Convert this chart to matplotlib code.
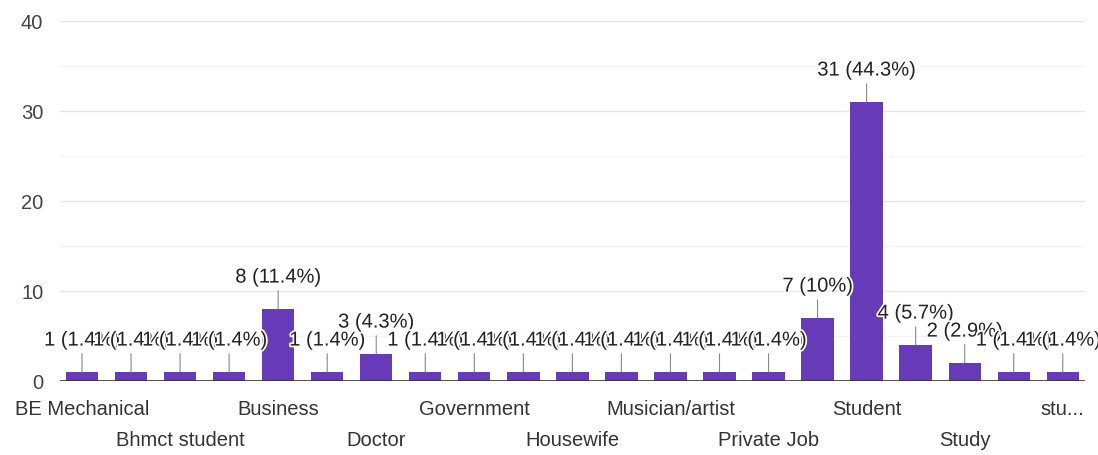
import matplotlib.pyplot as plt
import matplotlib.patheffects as pe

# --- data (hidden category names are not shown in the source, left blank) ---
categories = ['BE Mechanical', '', 'Bhmct student', '', 'Business', '', 'Doctor', '',
              'Government', '', 'Housewife', '', 'Musician/artist', '', 'Private Job', '',
              'Student', '', 'Study', '', 'stu...']
counts = [1, 1, 1, 1, 8, 1, 3, 1, 1, 1, 1, 1, 1, 1, 1, 7, 31, 4, 2, 1, 1]
yticks = [0, 10, 20, 30, 40]

purple = '#673ab7'
total = sum(counts)
fs = 14.5

plt.rcParams['font.family'] = ['Liberation Sans', 'DejaVu Sans']

fig = plt.figure(figsize=(10.98, 4.55), dpi=100)
ax = fig.add_axes([0.0546, 0.1626, 0.9334, 0.7912])

x = list(range(len(counts)))

# сетка
for v in range(5, 40, 10):
    ax.axhline(v, color='#f4f4f4', lw=1, zorder=0)
for v in yticks[1:]:
    ax.axhline(v, color='#e6e6e6', lw=1, zorder=0)

ax.bar(x, counts, width=0.66, color=purple, zorder=2)
ax.axhline(0, color='#333333', lw=1.2, zorder=3)

# value labels with leader lines
for i, v in enumerate(counts):
    pct = round(100 * v / total, 1)
    pct_s = ('%g' % pct)
    ax.annotate(f'{v} ({pct_s}%)', xy=(i, v), xytext=(0, 23), textcoords='offset points',
                ha='center', va='center', fontsize=fs, color='#222222', zorder=4,
                path_effects=[pe.withStroke(linewidth=2.5, foreground='white')],
                arrowprops=dict(arrowstyle='-', color='#888888', lw=0.8,
                                shrinkA=1, shrinkB=0))

ax.set_xlim(-0.45, len(counts) - 0.55)
ax.set_ylim(0, 40)
ax.set_yticks(yticks)
ax.set_yticklabels([str(t) for t in yticks], fontsize=fs, color='#444444')

# staggered category labels
row1 = [i for i in x if i % 4 == 0]
row2 = [i for i in x if i % 4 == 2]
ax.set_xticks(row1, [categories[i] for i in row1])
ax.set_xticks(row2, [categories[i] for i in row2], minor=True)
ax.tick_params(axis='x', which='major', length=0, pad=14, labelsize=fs, labelcolor='#333333')
ax.tick_params(axis='x', which='minor', length=0, pad=36, labelsize=fs, labelcolor='#333333')
ax.tick_params(axis='y', length=0, pad=12)

for s in ax.spines.values():
    s.set_visible(False)

fig.savefig('out.png', dpi=100)
